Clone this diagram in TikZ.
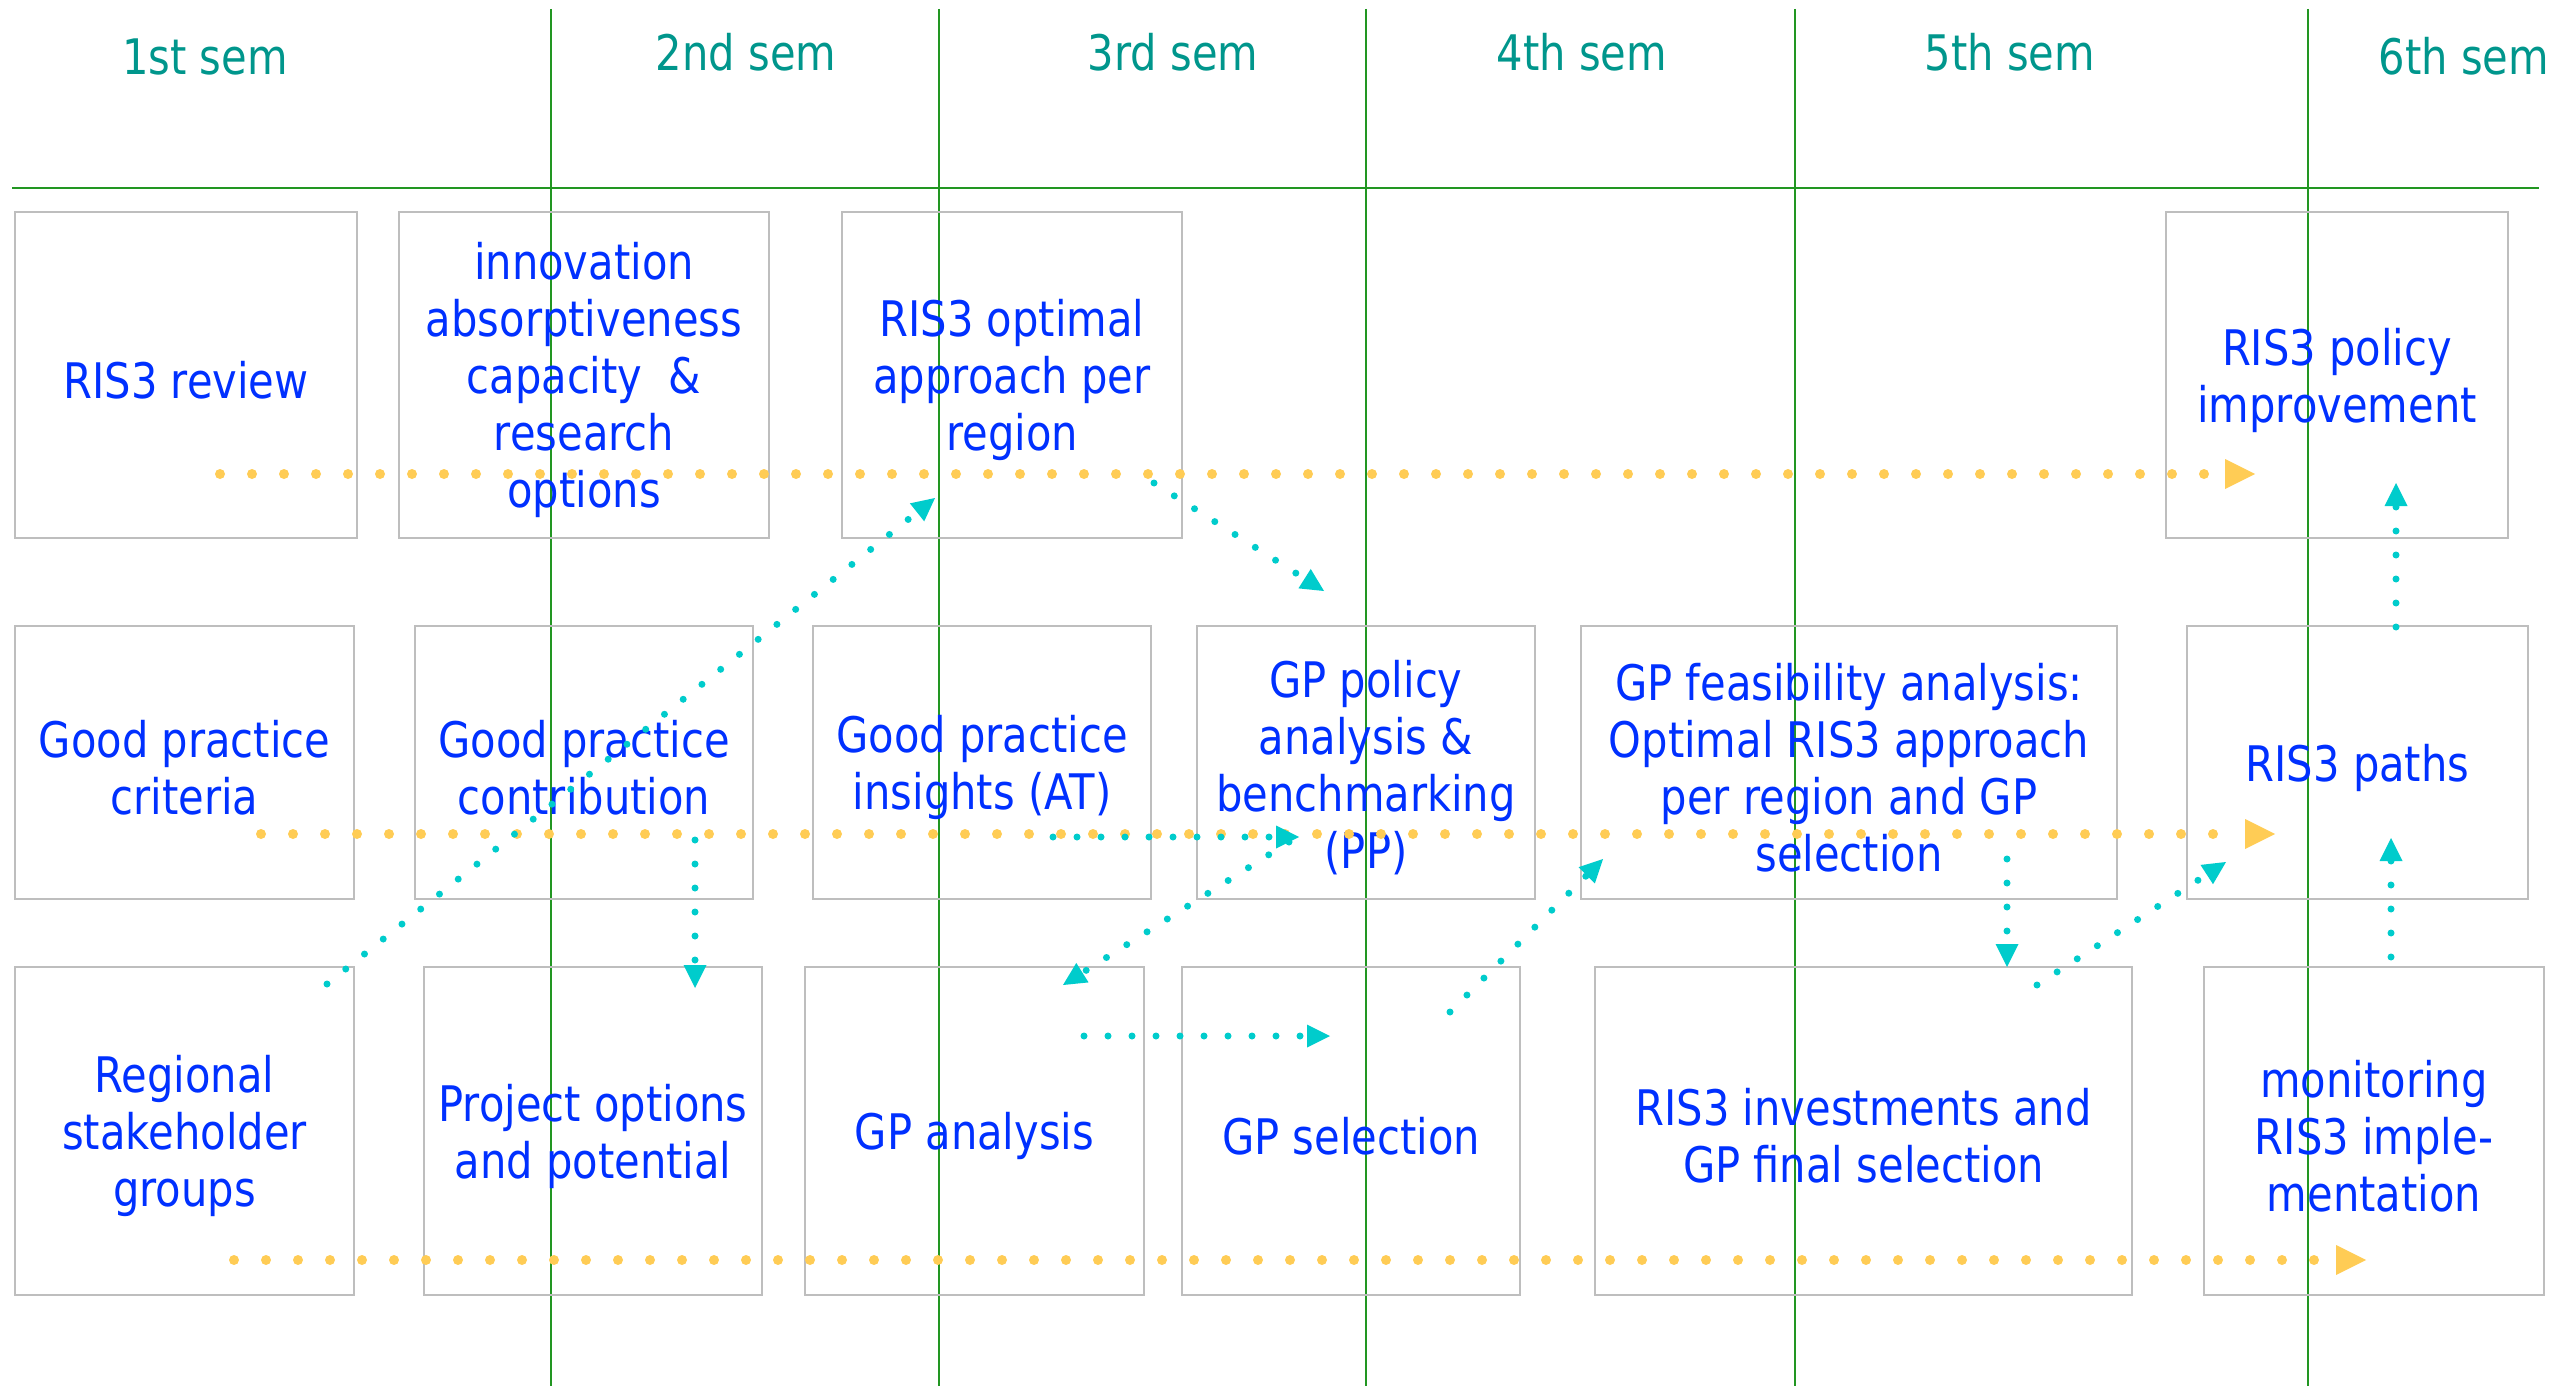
\documentclass[tikz,border=0pt]{standalone}
\usepackage{fontspec}
\setmainfont{DejaVu Sans}[FakeStretch=0.85]
\usetikzlibrary{arrows.meta}
\definecolor{txtblue}{RGB}{0,48,255}
\definecolor{hdrteal}{RGB}{0,150,140}
\definecolor{gridgreen}{RGB}{34,150,34}
\definecolor{boxgray}{RGB}{190,190,190}
\definecolor{dotyellow}{RGB}{255,204,85}
\definecolor{dotcyan}{RGB}{0,204,204}
\tikzset{
  box/.style={draw=boxgray, line width=1.2pt, inner sep=0pt},
  txt/.style={align=center, text=txtblue, inner sep=0pt, yshift=-2.5pt,
    font=\fontsize{24.5pt}{28.5pt}\selectfont},
  hdr/.style={text=hdrteal, anchor=base, inner sep=0pt, font=\fontsize{24.5pt}{28.5pt}\selectfont},
  vline/.style={draw=gridgreen, line width=1pt},
  hline/.style={draw=gridgreen, line width=1.4pt},
  ydots/.style={draw=dotyellow, line width=5pt, line cap=round, dash pattern=on 0pt off 16pt,
    -{Triangle[length=15pt,width=15pt,line width=0pt]}},
  cdots/.style={draw=dotcyan, line width=3.5pt, line cap=round, dash pattern=on 0pt off 12pt,
    -{Triangle[length=11.5pt,width=11.5pt,line width=0pt]}},
}
% box node (name, x, y, width, height) and its text node (name-t)
\newcommand\mkbox[6]{%
  \node[box, minimum width=#4, minimum height=#5] (#1) at (#2,#3) {};
  \node[txt] (#1t) at (#1.center) {#6};
}
\begin{document}
\begin{tikzpicture}[x=0.5pt,y=-0.5pt]
\useasboundingbox (0,0) rectangle (2572,1386);
% grid lines
\foreach \i/\x in {1/551,2/939,3/1366,4/1795,5/2308}{
  \coordinate (vt\i) at (\x,9);
  \coordinate (vb\i) at (\x,1386);
  \draw[vline] (vt\i) -- (vb\i);
}
\coordinate (hl) at (12,188);
\coordinate (hr) at (2539,188);
\draw[hline] (hl) -- (hr);
% headers
\node[hdr] (h1) at (205,75) {1st sem};
\node[hdr] (h2) at (746,71) {2nd sem};
\node[hdr] (h3) at (1173,71) {3rd sem};
\node[hdr] (h4) at (1582,71) {4th sem};
\node[hdr] (h5) at (2010,71) {5th sem};
\node[hdr] (h6) at (2464,75) {6th sem};
% row 1
\mkbox{A1}{186}{375}{171pt}{163pt}{RIS3 review}
\mkbox{A2}{584}{375}{185pt}{163pt}{innovation\\absorptiveness\\capacity\ \ \&\\research\\options}
\mkbox{A3}{1012}{375}{170pt}{163pt}{RIS3 optimal\\approach per\\region}
\mkbox{A4}{2337}{375}{171pt}{163pt}{RIS3 policy\\improvement}
% row 2
\mkbox{B1}{184.5}{762.5}{169.5pt}{136.5pt}{Good practice\\criteria}
\mkbox{B2}{584}{762.5}{169pt}{136.5pt}{Good practice\\contribution}
\mkbox{B3}{982}{762.5}{169pt}{136.5pt}{Good practice\\insights (AT)}
\mkbox{B4}{1366}{762.5}{169pt}{136.5pt}{GP policy\\analysis \&\\benchmarking\\(PP)}
\mkbox{B5}{1849}{762.5}{268pt}{136.5pt}{GP feasibility analysis:\\Optimal RIS3 approach\\per region and GP\\selection}
\mkbox{B6}{2357.5}{762.5}{170.5pt}{136.5pt}{RIS3 paths}
% row 3
\mkbox{C1}{184.5}{1131}{169.5pt}{164pt}{Regional\\stakeholder\\groups}
\mkbox{C2}{593}{1131}{169pt}{164pt}{Project options\\and potential}
\mkbox{C3}{974.5}{1131}{169.5pt}{164pt}{GP analysis}
\mkbox{C4}{1351}{1131}{169pt}{164pt}{GP selection}
\mkbox{C5}{1863.5}{1131}{268.5pt}{164pt}{RIS3 investments and\\GP final selection}
\mkbox{C6}{2374}{1131}{170pt}{164pt}{monitoring\\RIS3 imple-\\mentation}
% yellow timelines
\coordinate (y1s) at (220,474);  \coordinate (y1e) at (2255,474);
\coordinate (y2s) at (261,834);  \coordinate (y2e) at (2275,834);
\coordinate (y3s) at (234,1260); \coordinate (y3e) at (2366,1260);
\draw[ydots] (y1s) -- (y1e);
\draw[ydots] (y2s) -- (y2e);
\draw[ydots] (y3s) -- (y3e);
% cyan connectors
\coordinate (as) at (327,984);   \coordinate (ae) at (935,498);
\coordinate (bs) at (1154,483);  \coordinate (be) at (1324,591);
\coordinate (cs) at (1053,837);  \coordinate (ce) at (1299,837);
\coordinate (ks) at (1289,842);  \coordinate (ke) at (1063,985);
\coordinate (ds) at (695,840);   \coordinate (de) at (695,988);
\coordinate (es) at (1084,1036); \coordinate (ee) at (1330,1036);
\coordinate (fs) at (1450,1012); \coordinate (fe) at (1603,859);
\coordinate (gs) at (2007,859);  \coordinate (ge) at (2007,967);
\coordinate (hs) at (2037,985);  \coordinate (he) at (2226,862);
\coordinate (is) at (2391,957);  \coordinate (ie) at (2391,838);
\coordinate (js) at (2396,627);  \coordinate (je) at (2396,483);
\draw[cdots] (as) -- (ae);
\draw[cdots] (bs) -- (be);
\draw[cdots] (cs) -- (ce);
\draw[cdots] (ks) -- (ke);
\draw[cdots] (ds) -- (de);
\draw[cdots] (es) -- (ee);
\draw[cdots] (fs) -- (fe);
\draw[cdots] (gs) -- (ge);
\draw[cdots] (hs) -- (he);
\draw[cdots] (is) -- (ie);
\draw[cdots] (js) -- (je);
\end{tikzpicture}
\end{document}
